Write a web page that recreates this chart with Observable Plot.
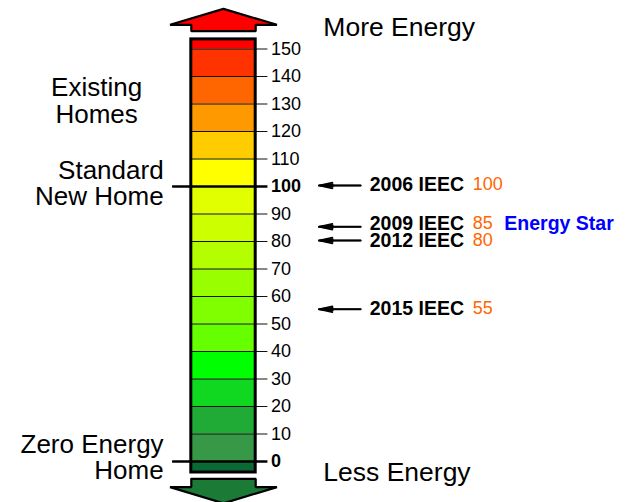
<!DOCTYPE html>
<html>
<head>
<meta charset="utf-8">
<script src="https://cdn.jsdelivr.net/npm/d3@7"></script>
<script src="https://cdn.jsdelivr.net/npm/@observablehq/plot@0.6"></script>
<style>
  html, body { margin: 0; padding: 0; background: #fff; }
  #chart svg { display: block; }
</style>
</head>
<body>
<div id="chart"></div>
<script>
// HERS index scale data
const tickValues = [0, 10, 20, 30, 40, 50, 60, 70, 80, 90, 100, 110, 120, 130, 140, 150];
const bandLow  = [-4, 0, 10, 20, 30, 40, 50, 60, 70, 80, 90, 100, 110, 120, 130, 140, 150];
const bandHigh = [0, 10, 20, 30, 40, 50, 60, 70, 80, 90, 100, 110, 120, 130, 140, 150, 153.5];
const bandColors = ["#0b6a34", "#379848", "#20aa36", "#10d820", "#00ff00", "#66ff00", "#80ff00",
  "#99ff00", "#b3ff00", "#ccff00", "#e2ff00", "#ffff00", "#ffcc00", "#ff9900", "#ff6600", "#ff3300", "#ff0000"];
const codeNames = ["2006 IEEC", "2009 IEEC", "2012 IEEC", "2015 IEEC"];
const codeValues = [100, 85, 80, 55];
const sideLabels = ["Existing\nHomes", "Standard\nNew Home", "Zero Energy\nHome"];
const sideLabelValues = [131, 101, 1.3];
const endLabels = ["More Energy", "Less Energy"];

const bands = bandLow.map((lo, i) => ({lo, hi: bandHigh[i], color: bandColors[i]}));

// block arrow outlines (bar-width units horizontally, index units vertically)
const upArrow = [
  {x: 0.5, y: 164.6}, {x: 1.33, y: 158.8}, {x: 1, y: 158.8}, {x: 1, y: 156.5},
  {x: 0, y: 156.5}, {x: 0, y: 158.8}, {x: -0.33, y: 158.8}, {x: 0.5, y: 164.6}
];
const downArrow = [
  {x: 0, y: -6.3}, {x: 1, y: -6.3}, {x: 1, y: -9.3}, {x: 1.33, y: -9.3},
  {x: 0.5, y: -15.2}, {x: -0.33, y: -9.3}, {x: 0, y: -9.3}, {x: 0, y: -6.3}
];

const font = "'Liberation Sans', Arial, Helvetica, sans-serif";

// small vertical nudges of the code labels (px), as in the original artwork
const codeLabelDy = [-2, -4.5, -1, -2];
const codeMarks = codeValues.flatMap((v, i) => [
  Plot.text([v], {x: 2.77, y: d => d, dy: codeLabelDy[i], text: () => codeNames[i], textAnchor: "start", fontSize: 19.5, fontWeight: "bold", fill: "#000"}),
  Plot.text([v], {x: 4.37, y: d => d, dy: codeLabelDy[i], text: d => String(d), textAnchor: "start", fontSize: 18, fill: "#ff6600"})
]);

const chart = Plot.plot({
  width: 626,
  height: 502,
  margin: 0,
  x: {domain: [0, 1], range: [190.8, 255.2], axis: null},
  y: {domain: [0, 100], range: [461, 186], axis: null},
  color: {type: "identity"},
  style: {fontFamily: font, background: "#fff", overflow: "visible"},
  marks: [
    Plot.rect(bands, {x1: 0, x2: 1, y1: "lo", y2: "hi", fill: "color"}),
    Plot.ruleY(tickValues.filter(t => t !== 0 && t !== 100), {x1: 0, x2: 1.19, stroke: "#111", strokeWidth: 1}),
    Plot.ruleY([0, 100], {x1: -0.29, x2: 1.19, stroke: "#000", strokeWidth: 2.5}),
    Plot.rect([0], {x1: 0, x2: 1, y1: -4, y2: 153.5, fill: "none", stroke: "#000", strokeWidth: 3}),
    Plot.line(upArrow, {x: "x", y: "y", fill: "#ff0000", stroke: "#000", strokeWidth: 2.2, strokeLinejoin: "miter"}),
    Plot.line(downArrow, {x: "x", y: "y", fill: "#1c7a37", stroke: "#000", strokeWidth: 2.2, strokeLinejoin: "miter"}),
    // tick labels
    Plot.text(tickValues.filter(t => t !== 0 && t !== 100), {x: 1.19, y: d => d, text: d => String(d), dx: 3, textAnchor: "start", fontSize: 18, fill: "#000"}),
    Plot.text([0, 100], {x: 1.19, y: d => d, text: d => String(d), dx: 3, textAnchor: "start", fontSize: 18, fontWeight: "bold", fill: "#000"}),
    // side labels
    Plot.text([sideLabels[0]], {x: -1.47, y: sideLabelValues[0], text: d => d, textAnchor: "middle", lineAnchor: "middle", lineHeight: 1.02, fontSize: 26, fill: "#000"}),
    Plot.text(sideLabels.slice(1), {x: -0.43, y: (d, i) => sideLabelValues[i + 1], text: d => d, textAnchor: "end", lineAnchor: "middle", lineHeight: 1.0, fontSize: 26, fill: "#000"}),
    // end labels
    Plot.text([endLabels[0]], {x: 2.05, y: 157.8, text: d => d, textAnchor: "start", fontSize: 26.5, fill: "#000"}),
    Plot.text([endLabels[1]], {x: 2.05, y: -3.9, text: d => d, textAnchor: "start", fontSize: 26.5, fill: "#000"}),
    // energy code arrows (layered heads to read as a filled wedge)
    Plot.arrow(codeValues, {x1: 2.63, x2: 1.98, y1: d => d, y2: d => d, dy: -1, headLength: 15, headAngle: 24, strokeWidth: 1.6, stroke: "#000"}),
    Plot.arrow(codeValues, {x1: 2.63, x2: 1.98, y1: d => d, y2: d => d, dy: -1, headLength: 14, headAngle: 12, strokeWidth: 1.8, stroke: "#000"}),
    ...codeMarks,
    Plot.text(["Energy Star"], {x: 4.86, y: codeValues[1], dy: -4.5, text: d => d, textAnchor: "start", fontSize: 19.5, fontWeight: "bold", fill: "#0000ff"})
  ]
});

document.getElementById("chart").appendChild(chart);
</script>
</body>
</html>
